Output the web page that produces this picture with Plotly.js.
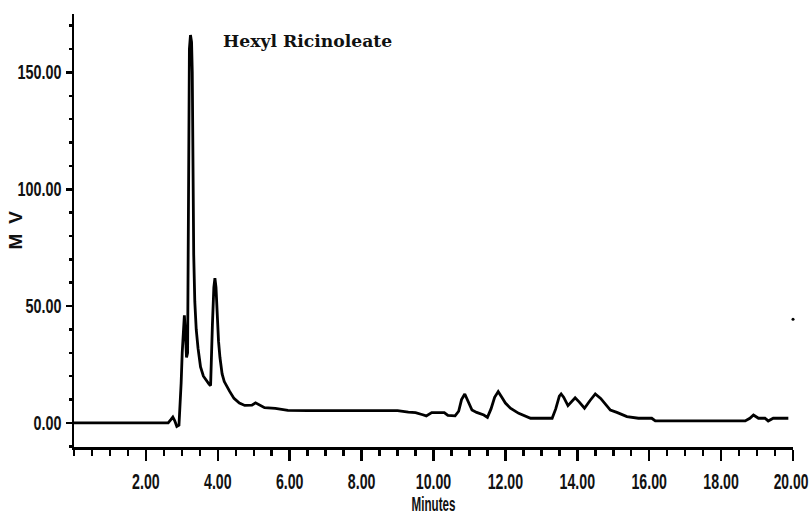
<!DOCTYPE html>
<html>
<head>
<meta charset="utf-8">
<script src="https://cdn.plot.ly/plotly-3.0.1.min.js"></script>
<style>html,body{margin:0;padding:0;background:#fff;}#chart{width:812px;height:515px;}</style>
</head>
<body>
<div id="chart"></div>
<script>
// Retention time (minutes)
const timeMin = [0, 2.62, 2.70, 2.75, 2.80, 2.86, 2.92, 2.96, 2.98, 3.01, 3.04, 3.07, 3.10, 3.13, 3.16, 3.18, 3.21, 3.24, 3.27, 3.29, 3.31, 3.33, 3.36, 3.40, 3.45, 3.52, 3.60, 3.68, 3.76, 3.80, 3.82, 3.85, 3.89, 3.92, 3.95, 3.98, 4.02, 4.06, 4.12, 4.18, 4.25, 4.33, 4.45, 4.60, 4.75, 4.95, 5.05, 5.12, 5.30, 5.60, 5.95, 6.50, 7.00, 7.50, 8.00, 8.50, 9.00, 9.30, 9.50, 9.70, 9.80, 9.95, 10.30, 10.40, 10.60, 10.70, 10.78, 10.87, 10.95, 11.07, 11.20, 11.40, 11.50, 11.60, 11.70, 11.80, 11.90, 12.00, 12.14, 12.37, 12.70, 13.00, 13.30, 13.40, 13.50, 13.55, 13.62, 13.74, 13.85, 13.94, 14.05, 14.20, 14.35, 14.50, 14.65, 14.80, 14.92, 15.10, 15.38, 15.70, 16.07, 16.17, 17.00, 18.00, 18.67, 18.80, 18.90, 19.04, 19.22, 19.31, 19.45, 19.60, 19.87];
// Detector signal (mV)
const signalMV = [0, 0, 1.5, 2.5, 1, -1.5, -1, 8, 17, 30, 40, 46, 38, 28, 30, 82, 160, 166, 163, 150, 105, 72, 52, 40, 32, 24, 20, 18, 16.5, 16, 30, 42, 58, 62, 58, 45, 35, 28, 21, 17.7, 15.5, 13.5, 10.5, 8.5, 7.5, 7.6, 8.6, 8, 6.5, 6.2, 5.4, 5.3, 5.3, 5.3, 5.3, 5.3, 5.3, 4.6, 4.4, 3.5, 3, 4.4, 4.4, 3.2, 3, 5, 10, 12.4, 9.5, 5.5, 4.5, 3.4, 2.4, 6, 11, 13.4, 11, 8.5, 6.3, 4.1, 2, 2, 2, 6, 11.5, 12.4, 11, 7.4, 9.5, 10.8, 9, 6.3, 9.5, 12.4, 10.5, 7.5, 5.5, 4.5, 2.7, 2, 2, 0.85, 0.85, 0.85, 0.85, 2, 3.4, 2, 2, 0.85, 2, 2, 2];
// Isolated stray dot visible at the right edge of the original trace
const strayTime = [20.0];
const straySignal = [44.4];

const xTickVals = [2, 4, 6, 8, 10, 12, 14, 16, 18, 20];
const yTickVals = [0, 50, 100, 150];
const chartTitle = 'Hexyl Ricinoleate';
const xTitle = 'Minutes';
const yTitle = 'MV';

const sansFamily = '"Liberation Sans", Arial, sans-serif';

const trace = {
  x: timeMin, y: signalMV, type: 'scatter', mode: 'lines',
  line: {color: '#000', width: 2.8}, hoverinfo: 'skip', showlegend: false
};
const dot = {
  x: strayTime, y: straySignal, type: 'scatter', mode: 'markers',
  marker: {color: '#000', size: 3}, hoverinfo: 'skip', showlegend: false, cliponaxis: false
};

const layout = {
  width: 812, height: 515,
  margin: {l: 74, r: 19, t: 14, b: 68},
  paper_bgcolor: '#fff', plot_bgcolor: '#fff',
  title: {text: chartTitle, x: 223/812, xanchor: 'left', xref: 'container', y: 1 - 41/515, yanchor: 'middle', yref: 'container',
          font: {family: '"DejaVu Serif", serif', size: 17.2, color: '#111', weight: 'bold'}},
  xaxis: {
    range: [0, 20], showgrid: false, zeroline: false, showline: true, linecolor: '#000', linewidth: 2.5,
    tickvals: xTickVals, tickformat: '.2f', ticks: 'outside', ticklen: 11, tickwidth: 2.5, tickcolor: '#000',
    ticklabelstandoff: 2, ticklabeloverflow: 'allow',
    minor: {dtick: 0.5, tick0: 0, ticks: 'outside', ticklen: 6, tickwidth: 2.5, tickcolor: '#000', showgrid: false},
    tickfont: {family: sansFamily, size: 22, color: '#111', weight: 'bold'},
    title: {text: xTitle, font: {family: sansFamily, size: 20, color: '#111', weight: 'bold'}, standoff: 4}
  },
  yaxis: {
    range: [-10.3, 175], showgrid: false, zeroline: false, showline: true, linecolor: '#000', linewidth: 2.5,
    tickvals: yTickVals, tickformat: '.2f', ticks: 'outside', ticklen: 6, tickwidth: 2.5, tickcolor: '#000',
    minor: {dtick: 10, tick0: 0, ticks: 'outside', ticklen: 3, tickwidth: 2.5, tickcolor: '#000', showgrid: false},
    tickfont: {family: sansFamily, size: 20, color: '#111', weight: 'bold'}
  },
  annotations: [{
    text: yTitle, xref: 'paper', yref: 'paper', x: (15 - 74) / 719, y: 0.5, xanchor: 'center', yanchor: 'middle',
    textangle: -90, showarrow: false, font: {family: sansFamily, size: 19, color: '#111', weight: 'bold'}
  }]
};

Plotly.newPlot('chart', [trace, dot], layout, {displayModeBar: false, staticPlot: true}).then(gd => {
  // The original uses a tall, condensed typeface: narrow the glyphs horizontally.
  const fit = (nodes, f, mode) => nodes.forEach(t => {
    const w = t.getComputedTextLength();
    t.setAttribute('textLength', (w * f).toFixed(1));
    t.setAttribute('lengthAdjust', mode || 'spacingAndGlyphs');
  });
  const xl = Array.from(gd.querySelectorAll('.xtick text'));
  const last = xl.pop();
  fit(xl, 0.645);
  if (last) { fit([last], 0.63); last.setAttribute('dx', '-2'); }
  fit(Array.from(gd.querySelectorAll('.ytick text')), 0.72);
  fit(Array.from(gd.querySelectorAll('.g-xtitle text')), 0.58);
  fit(Array.from(gd.querySelectorAll('.annotation-text')), 1.35, 'spacing');
});
</script>
</body>
</html>
